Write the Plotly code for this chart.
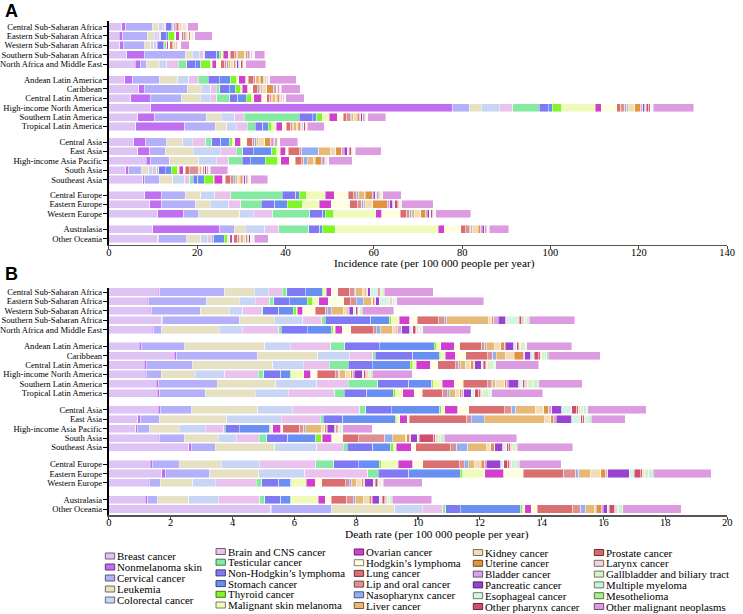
import plotly.graph_objects as go

# ---------------- categories ----------------
cancers = ["Breast cancer", "Nonmelanoma skin", "Cervical cancer", "Leukemia", "Colorectal cancer",
           "Brain and CNS cancer", "Testicular cancer", "Non-Hodgkin\u2019s lymphoma", "Stomach cancer",
           "Thyroid cancer", "Malignant skin melanoma",
           "Ovarian cancer", "Hodgkin\u2019s lymphoma", "Lung cancer", "Lip and oral cancer",
           "Nasopharynx cancer", "Liver cancer",
           "Kidney cancer", "Uterine cancer", "Bladder cancer", "Pancreatic cancer",
           "Esophageal cancer", "Other pharynx cancer",
           "Prostate cancer", "Larynx cancer", "Gallbladder and biliary tract", "Multiple myeloma",
           "Mesothelioma", "Other malignant neoplasms"]

colors = ["#dec4f4", "#c16ff2", "#b4b1fa", "#e5e1c2", "#c9d5f5",
          "#e9c2ee", "#86eba2", "#7f79f3", "#6a8ff2", "#7ff52a", "#f1fbb9",
          "#d23ed0", "#fffde2", "#d96f70", "#df9092", "#92aff2", "#e8b877",
          "#f1dcb6", "#e09441", "#dea2e6", "#9a43d2", "#d5f4e4", "#d24c72",
          "#d96a6a", "#f3d6d8", "#d6f2c6", "#c6f2d8", "#a6ef8a", "#dd9ce2"]

regions = ["Central Sub-Saharan Africa", "Eastern Sub-Saharan Africa", "Western Sub-Saharan Africa",
           "Southern Sub-Saharan Africa", "North Africa and Middle East",
           "Andean Latin America", "Caribbean", "Central Latin America", "High-income North America",
           "Southern Latin America", "Tropical Latin America",
           "Central Asia", "East Asia", "High-income Asia Pacific", "South Asia", "Southeast Asia",
           "Central Europe", "Eastern Europe", "Western Europe",
           "Australasia", "Other Oceania"]
group_sizes = [5, 6, 5, 3, 2]

# ---------------- panel A: incidence (per 100 000) ----------------
a_c_ssa = [2.9, 0.9, 6.0, 1.55, 0.75, 0.6, 0.15, 1.3, 0.35, 0.2, 0.15, 0.3, 0.15, 0.45, 0.3, 0.15, 0.3, 0.2, 0.2, 0.15, 0.15, 0.1, 0.1, 0.1, 0.1, 0.1, 0.1, 0.05, 2.4]
a_e_ssa = [2.35, 0.75, 5.6, 1.55, 0.65, 0.6, 0.2, 1.3, 0.5, 1.4, 0.3, 0.75, 0.55, 0.45, 0.3, 0.25, 0.35, 0.25, 0.3, 0.15, 0.15, 0.2, 0.1, 0.1, 0.1, 0.1, 0.1, 0.05, 4.0]
a_w_ssa = [2.5, 0.75, 4.9, 1.3, 0.7, 0.7, 0.1, 1.4, 0.3, 0.3, 0.1, 0.45, 0.3, 0.55, 0.3, 0.15, 0.3, 0.2, 0.2, 0.15, 0.1, 0.1, 0.1, 0.1, 0.05, 0.05, 0.1, 0.05, 1.85]
a_s_ssa = [4.0, 4.0, 9.3, 1.55, 1.6, 1.0, 0.3, 2.7, 0.5, 0.5, 0.4, 1.2, 0.4, 0.9, 0.6, 0.15, 1.5, 0.35, 0.35, 0.25, 0.3, 0.25, 0.2, 0.15, 0.15, 0.15, 0.15, 0.1, 2.35]
a_name = [6.0, 1.05, 1.4, 3.0, 1.7, 2.6, 1.9, 1.9, 1.25, 2.3, 0.3, 0.9, 1.0, 0.9, 0.45, 0.4, 0.6, 0.6, 0.35, 0.35, 0.45, 0.45, 0.3, 0.3, 0.15, 0.15, 0.15, 0.1, 4.5]
a_andean = [3.55, 1.8, 6.1, 4.15, 2.5, 2.1, 2.3, 2.45, 2.5, 1.5, 0.45, 1.6, 0.6, 1.05, 0.45, 0.2, 0.75, 0.25, 0.75, 0.2, 0.3, 0.2, 0.2, 0.1, 0.1, 0.1, 0.1, 0.05, 6.0]
a_carib = [6.8, 1.2, 9.7, 3.2, 2.2, 1.2, 0.8, 2.2, 1.35, 1.25, 0.25, 1.25, 1.2, 1.05, 0.45, 0.3, 0.45, 0.9, 1.6, 0.3, 0.3, 0.45, 0.2, 0.1, 0.1, 0.1, 0.1, 0.05, 4.3]
a_c_la = [4.9, 4.45, 7.1, 4.2, 2.3, 1.5, 2.9, 1.85, 1.9, 1.1, 0.6, 1.85, 1.05, 0.75, 0.45, 0.15, 0.6, 0.45, 0.6, 0.2, 0.3, 0.2, 0.2, 0.1, 0.1, 0.1, 0.1, 0.05, 4.2]
a_hina = [9.5, 68.4, 3.7, 2.7, 4.1, 3.05, 6.0, 2.1, 0.9, 2.15, 7.55, 1.35, 3.5, 0.9, 0.9, 0.45, 0.45, 1.4, 1.35, 0.45, 0.45, 0.3, 0.6, 0.3, 0.2, 0.2, 0.2, 0.1, 9.2]
a_s_la = [6.5, 3.85, 11.7, 3.4, 3.1, 2.1, 12.45, 2.95, 1.05, 1.2, 1.6, 1.8, 1.35, 0.8, 0.8, 0.25, 0.45, 0.9, 0.5, 0.3, 0.3, 0.3, 0.3, 0.15, 0.15, 0.15, 0.15, 0.1, 4.1]
a_t_la = [6.1, 11.1, 6.9, 2.6, 2.2, 2.4, 1.8, 1.8, 1.2, 0.75, 1.05, 1.35, 0.9, 1.05, 0.45, 0.15, 0.6, 0.45, 0.6, 0.2, 0.3, 0.2, 0.3, 0.1, 0.1, 0.1, 0.1, 0.05, 3.85]
a_c_asia = [5.6, 2.8, 4.75, 3.55, 2.2, 3.05, 1.4, 1.95, 2.05, 0.6, 0.6, 1.35, 1.35, 1.35, 0.45, 0.45, 0.45, 1.35, 1.35, 0.35, 0.35, 0.3, 0.3, 0.2, 0.2, 0.15, 0.15, 0.1, 4.0]
a_e_asia = [6.5, 2.8, 3.55, 6.2, 6.2, 3.55, 1.5, 2.4, 4.15, 1.2, 0.75, 1.2, 0.6, 2.5, 0.6, 3.85, 2.65, 1.2, 1.35, 0.6, 0.6, 0.45, 0.45, 0.2, 0.2, 0.2, 0.2, 0.1, 5.9]
a_hiap = [8.45, 0.9, 4.3, 6.65, 4.0, 2.8, 3.1, 1.8, 3.4, 2.8, 0.75, 1.9, 1.35, 1.35, 0.6, 0.75, 1.35, 0.45, 1.5, 0.3, 0.35, 0.35, 0.15, 0.1, 0.1, 0.1, 0.1, 0.05, 5.35]
a_s_asia = [3.85, 0.6, 2.95, 1.65, 0.75, 1.05, 0.45, 1.5, 1.35, 1.5, 0.3, 0.9, 0.45, 0.9, 2.1, 0.3, 0.45, 0.25, 0.25, 0.2, 0.25, 0.25, 0.25, 0.1, 0.1, 0.1, 0.1, 0.05, 4.0]
a_se_asia = [7.7, 0.45, 3.25, 3.1, 2.65, 1.2, 0.75, 1.05, 1.5, 2.05, 0.15, 1.9, 0.6, 1.2, 0.6, 0.45, 0.6, 0.6, 0.45, 0.3, 0.3, 0.3, 0.3, 0.15, 0.15, 0.15, 0.15, 0.1, 3.85]
a_c_eur = [8.15, 3.7, 5.5, 3.4, 3.25, 3.55, 11.7, 3.1, 0.75, 1.6, 4.3, 2.05, 3.1, 1.2, 0.75, 0.45, 1.35, 0.2, 1.5, 0.3, 0.45, 0.45, 0.3, 0.2, 0.2, 0.2, 0.2, 0.1, 4.2]
a_e_eur = [9.2, 2.8, 7.55, 3.4, 4.15, 2.8, 4.6, 3.1, 2.8, 3.55, 3.7, 2.65, 4.3, 1.8, 0.9, 0.45, 0.45, 1.6, 3.25, 0.6, 0.6, 0.45, 0.6, 0.3, 0.2, 0.2, 0.2, 0.1, 7.2]
a_w_eur = [11.1, 5.9, 3.4, 9.2, 3.1, 4.45, 8.3, 2.95, 0.6, 1.9, 9.5, 1.4, 4.2, 1.4, 0.7, 0.5, 0.6, 1.4, 1.2, 0.3, 0.5, 0.3, 0.4, 0.2, 0.2, 0.1, 0.1, 0.1, 8.0]
a_austral = [9.9, 15.25, 3.4, 2.35, 4.45, 3.1, 6.8, 2.5, 0.6, 2.95, 23.3, 1.35, 3.7, 1.0, 0.9, 0.45, 0.45, 1.2, 0.6, 0.3, 0.4, 0.3, 0.3, 0.15, 0.1, 0.1, 0.1, 0.1, 4.4]
a_oceania = [11.1, 0.15, 6.4, 3.1, 1.5, 0.9, 0.3, 0.3, 2.4, 0.75, 0.45, 0.6, 0.3, 0.9, 0.45, 0.3, 0.6, 0.45, 0.45, 0.3, 0.3, 0.3, 0.15, 0.1, 0.1, 0.1, 0.1, 0.05, 3.2]

# ---------------- panel B: deaths (per 100 000) ----------------
b_c_ssa = [1.6, 0.04, 2.09, 0.98, 0.45, 0.45, 0.15, 0.6, 0.55, 0.04, 0.09, 0.15, 0.21, 0.4, 0.13, 0.06, 0.23, 0.07, 0.06, 0.03, 0.08, 0.25, 0.04, 0.03, 0.03, 0.03, 0.04, 0.03, 1.58]
b_e_ssa = [1.24, 0.04, 1.88, 1.05, 0.53, 0.47, 0.13, 0.49, 0.58, 0.19, 0.19, 0.3, 0.51, 0.21, 0.19, 0.23, 0.26, 0.05, 0.05, 0.04, 0.11, 0.34, 0.04, 0.03, 0.04, 0.04, 0.05, 0.04, 2.8]
b_w_ssa = [1.34, 0.04, 1.58, 0.94, 0.43, 0.6, 0.04, 0.53, 0.47, 0.09, 0.04, 0.17, 0.4, 0.34, 0.06, 0.13, 0.38, 0.13, 0.04, 0.03, 0.12, 0.09, 0.04, 0.03, 0.03, 0.03, 0.04, 0.03, 1.02]
b_s_ssa = [1.71, 0.04, 2.47, 1.13, 0.92, 0.62, 0.11, 1.47, 0.6, 0.06, 0.26, 0.34, 0.24, 0.69, 0.19, 0.07, 1.37, 0.1, 0.06, 0.14, 0.25, 0.44, 0.07, 0.04, 0.06, 0.06, 0.06, 0.03, 1.47]
b_name = [1.41, 0.04, 0.26, 1.86, 0.75, 1.17, 0.09, 0.83, 0.79, 0.06, 0.06, 0.23, 0.28, 0.73, 0.09, 0.13, 0.4, 0.11, 0.06, 0.13, 0.25, 0.1, 0.08, 0.04, 0.05, 0.06, 0.06, 0.04, 1.54]
b_andean = [0.98, 0.06, 1.41, 2.6, 0.81, 1.32, 0.45, 1.11, 1.79, 0.08, 0.13, 0.43, 0.18, 0.72, 0.09, 0.04, 0.28, 0.19, 0.13, 0.02, 0.27, 0.11, 0.05, 0.03, 0.04, 0.16, 0.02, 0.02, 1.45]
b_carib = [2.11, 0.09, 2.62, 1.94, 1.02, 0.75, 0.09, 1.21, 0.86, 0.05, 0.14, 0.32, 0.34, 0.7, 0.18, 0.11, 0.3, 0.28, 0.3, 0.05, 0.19, 0.11, 0.13, 0.06, 0.06, 0.08, 0.07, 0.05, 1.68]
b_c_la = [1.15, 0.06, 1.51, 2.58, 0.98, 0.85, 0.62, 0.77, 1.23, 0.08, 0.11, 0.45, 0.25, 0.56, 0.12, 0.05, 0.17, 0.17, 0.09, 0.04, 0.21, 0.06, 0.06, 0.04, 0.05, 0.17, 0.05, 0.03, 1.4]
b_hina = [1.17, 0.04, 0.49, 1.09, 0.96, 1.09, 0.17, 0.55, 0.3, 0.04, 0.4, 0.23, 0.21, 0.58, 0.11, 0.04, 0.17, 0.19, 0.06, 0.04, 0.26, 0.06, 0.06, 0.04, 0.04, 0.06, 0.04, 0.03, 1.29]
b_s_la = [1.54, 0.06, 1.9, 1.9, 1.32, 1.02, 0.96, 1.0, 0.75, 0.04, 0.3, 0.39, 0.28, 0.78, 0.13, 0.04, 0.09, 0.3, 0.06, 0.06, 0.34, 0.13, 0.06, 0.04, 0.06, 0.2, 0.1, 0.05, 1.42]
b_t_la = [1.56, 0.09, 1.49, 1.6, 1.07, 1.49, 0.32, 0.73, 0.85, 0.08, 0.23, 0.37, 0.25, 0.67, 0.14, 0.07, 0.19, 0.15, 0.06, 0.07, 0.25, 0.1, 0.14, 0.06, 0.06, 0.2, 0.06, 0.04, 1.64]
b_c_asia = [1.6, 0.06, 1.02, 2.13, 1.13, 2.18, 0.19, 0.82, 1.58, 0.05, 0.11, 0.41, 0.36, 1.15, 0.24, 0.14, 0.63, 0.27, 0.16, 0.1, 0.32, 0.32, 0.17, 0.04, 0.09, 0.09, 0.1, 0.03, 1.9]
b_e_asia = [0.94, 0.09, 0.6, 2.18, 1.77, 1.26, 0.09, 0.64, 1.7, 0.05, 0.09, 0.24, 0.06, 1.86, 0.16, 0.42, 1.95, 0.19, 0.08, 0.1, 0.5, 0.3, 0.06, 0.04, 0.04, 0.07, 0.1, 0.03, 1.1]
b_hiap = [0.87, 0.04, 0.41, 0.96, 0.83, 0.6, 0.06, 0.45, 0.98, 0.04, 0.06, 0.26, 0.06, 0.55, 0.13, 0.06, 0.51, 0.11, 0.06, 0.03, 0.23, 0.05, 0.04, 0.03, 0.03, 0.06, 0.04, 0.02, 0.95]
b_s_asia = [1.6, 0.04, 0.81, 1.09, 0.58, 0.75, 0.23, 0.68, 0.92, 0.17, 0.04, 0.3, 0.36, 0.49, 0.87, 0.24, 0.41, 0.06, 0.08, 0.04, 0.22, 0.06, 0.47, 0.05, 0.1, 0.06, 0.1, 0.03, 2.35]
b_se_asia = [2.58, 0.09, 0.77, 1.92, 1.37, 0.85, 0.13, 0.83, 0.58, 0.1, 0.07, 0.49, 0.15, 1.11, 0.21, 0.36, 0.62, 0.13, 0.11, 0.02, 0.25, 0.13, 0.06, 0.06, 0.06, 0.1, 0.03, 0.03, 1.79]
b_c_eur = [1.34, 0.06, 0.9, 1.34, 1.22, 1.83, 0.58, 0.79, 0.69, 0.06, 0.55, 0.47, 0.32, 1.18, 0.17, 0.12, 0.2, 0.23, 0.11, 0.04, 0.47, 0.11, 0.13, 0.05, 0.07, 0.12, 0.1, 0.03, 1.35]
b_e_eur = [1.71, 0.11, 1.45, 1.58, 1.49, 2.03, 0.35, 0.98, 1.66, 0.09, 0.71, 0.61, 0.64, 1.31, 0.39, 0.09, 0.37, 0.34, 0.16, 0.07, 0.7, 0.16, 0.19, 0.06, 0.08, 0.13, 0.11, 0.04, 1.88]
b_w_eur = [1.28, 0.04, 0.34, 1.05, 0.73, 1.32, 0.19, 0.55, 0.38, 0.04, 0.47, 0.28, 0.21, 0.77, 0.13, 0.06, 0.17, 0.17, 0.06, 0.04, 0.28, 0.06, 0.06, 0.04, 0.04, 0.06, 0.04, 0.02, 1.25]
b_austral = [1.17, 0.09, 0.32, 1.0, 0.96, 1.34, 0.17, 0.51, 0.3, 0.04, 0.87, 0.23, 0.19, 0.51, 0.21, 0.06, 0.26, 0.19, 0.06, 0.04, 0.23, 0.1, 0.06, 0.04, 0.05, 0.08, 0.06, 0.03, 1.28]
b_oceania = [5.23, 0.02, 1.96, 2.04, 0.88, 0.67, 0.1, 0.46, 1.97, 0.06, 0.06, 0.21, 0.2, 1.14, 0.26, 0.16, 0.29, 0.06, 0.15, 0.08, 0.13, 0.06, 0.17, 0.04, 0.05, 0.05, 0.1, 0.03, 1.89]

a_ticks = [0, 20, 40, 60, 80, 100, 120, 140]
b_ticks = [0, 2, 4, 6, 8, 10, 12, 14, 16, 18, 20]

inc_rows = [a_c_ssa, a_e_ssa, a_w_ssa, a_s_ssa, a_name, a_andean, a_carib, a_c_la, a_hina, a_s_la, a_t_la,
            a_c_asia, a_e_asia, a_hiap, a_s_asia, a_se_asia, a_c_eur, a_e_eur, a_w_eur, a_austral, a_oceania]
death_rows = [b_c_ssa, b_e_ssa, b_w_ssa, b_s_ssa, b_name, b_andean, b_carib, b_c_la, b_hina, b_s_la, b_t_la,
              b_c_asia, b_e_asia, b_hiap, b_s_asia, b_se_asia, b_c_eur, b_e_eur, b_w_eur, b_austral, b_oceania]

# ---------------- layout helpers ----------------
W, H = 743, 614
SERIF = "Liberation Serif, Times New Roman, serif"


def px(x):
    return x / W


def py(y):
    return 1 - y / H


def row_positions(gap):
    pos, y = [], 0.0
    for n in group_sizes:
        for _ in range(n):
            pos.append(y)
            y += 1
        y += gap - 1
    return pos


posA = row_positions(1.66)
posB = row_positions(1.78)


def y_range(pos, first_px, last_px, top_px, bottom_px):
    pitch = (last_px - first_px) / pos[-1]
    return [pos[-1] + (bottom_px - last_px) / pitch, -(first_px - top_px) / pitch]


X_LEFT, X_RIGHT = 106.6, 735.0
A_TOP, A_BOT = 21.0, 244.5
B_TOP, B_BOT = 287.5, 515.0
rangeA = y_range(posA, 26.6, 238.7, A_TOP, A_BOT)
rangeB = y_range(posB, 292.0, 509.0, B_TOP, B_BOT)

fig = go.Figure()
for j, name in enumerate(cancers):
    fig.add_trace(go.Bar(
        y=posA, x=[r[j] for r in inc_rows], orientation="h", name=name,
        marker=dict(color=colors[j], line=dict(color="rgba(255,255,255,0.75)", width=0.6)),
        width=0.86, xaxis="x", yaxis="y", showlegend=False))
    fig.add_trace(go.Bar(
        y=posB, x=[r[j] for r in death_rows], orientation="h", name=name,
        marker=dict(color=colors[j], line=dict(color="rgba(255,255,255,0.75)", width=0.6)),
        width=0.86, xaxis="x2", yaxis="y2", showlegend=False))

yaxis_common = dict(tickmode="array", ticktext=regions, showgrid=False, zeroline=False,
                    showline=True, linecolor="black", linewidth=2, ticks="outside", ticklen=4,
                    tickcolor="black", tickwidth=1, ticklabelstandoff=-1,
                    tickfont=dict(family=SERIF, size=8.6, color="black"))
xaxis_common = dict(showgrid=False, zeroline=False, showline=True, linecolor="#555555", linewidth=1.5,
                    ticks="outside", ticklen=3, tickcolor="#444444", tickwidth=1.2,
                    ticklabelstandoff=-6,
                    tickfont=dict(family=SERIF, size=10.5, color="black"), tickmode="array")

fig.update_layout(
    width=W, height=H, margin=dict(l=0, r=0, t=0, b=0),
    paper_bgcolor="white", plot_bgcolor="white", barmode="stack", bargap=0,
    xaxis=dict(domain=[px(X_LEFT), px(X_RIGHT)], range=[0, 140], tickvals=a_ticks,
               anchor="y", **xaxis_common),
    yaxis=dict(domain=[py(A_BOT), py(A_TOP)], range=rangeA, tickvals=posA, anchor="x", **yaxis_common),
    xaxis2=dict(domain=[px(X_LEFT), px(X_RIGHT)], range=[0, 20], tickvals=b_ticks,
                anchor="y2", **xaxis_common),
    yaxis2=dict(domain=[py(B_BOT), py(B_TOP)], range=rangeB, tickvals=posB, anchor="x2", **yaxis_common),
)

annotations = [
    dict(text="<b>A</b>", x=px(-1), y=py(-1), xanchor="left", yanchor="top",
         font=dict(family="Liberation Sans, Arial, sans-serif", size=18, color="black")),
    dict(text="<b>B</b>", x=px(-1), y=py(262), xanchor="left", yanchor="top",
         font=dict(family="Liberation Sans, Arial, sans-serif", size=18, color="black")),
    dict(text="Incidence rate (per 100 000 people per year)", x=px(437.5), y=py(263),
         xanchor="center", yanchor="middle", font=dict(family=SERIF, size=11.3, color="black")),
    dict(text="Death rate (per 100 000 people per year)", x=px(440), y=py(534),
         xanchor="center", yanchor="middle", font=dict(family=SERIF, size=11.3, color="black")),
]


def darker(hexc, f=0.5):
    r, g, b = int(hexc[1:3], 16), int(hexc[3:5], 16), int(hexc[5:7], 16)
    return "rgb(%d,%d,%d)" % (r * f, g * f, b * f)


# manual legend laid out column by column
col_slices = [(0, 5), (5, 11), (11, 17), (17, 23), (23, 29)]
col_x = [103.0, 215.5, 356.0, 477.0, 600.0]
col_y0 = [556.0, 551.5, 552.0, 552.5, 552.5]
col_dy = [11.0, 10.7, 10.7, 10.8, 10.8]
shapes = []
for c, (s, e) in enumerate(col_slices):
    for k, j in enumerate(range(s, e)):
        yc = col_y0[c] + k * col_dy[c]
        shapes.append(dict(type="rect", xref="paper", yref="paper",
                           x0=px(col_x[c]), x1=px(col_x[c] + 9.5), y0=py(yc + 3), y1=py(yc - 3),
                           fillcolor=colors[j], line=dict(color=darker(colors[j]), width=1)))
        annotations.append(dict(text=cancers[j], x=px(col_x[c] + 10.3), y=py(yc),
                                xanchor="left", yanchor="middle",
                                font=dict(family=SERIF, size=10.9, color="black")))

for a in annotations:
    a.update(xref="paper", yref="paper", showarrow=False)
fig.update_layout(annotations=annotations, shapes=shapes)

fig.write_html("out.html", config={"displayModeBar": False, "staticPlot": True},
               post_script="document.body.style.margin='0';document.body.style.padding='0';"
                           "document.documentElement.style.overflow='hidden';")
